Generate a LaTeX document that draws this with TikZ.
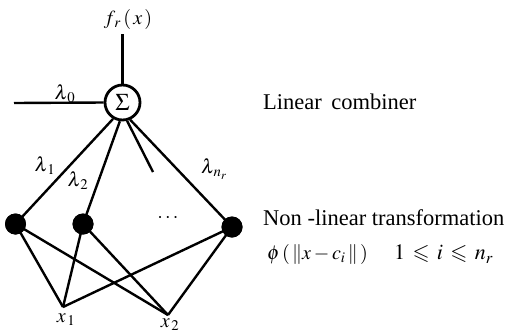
\documentclass[tikz,border=0pt]{standalone}
\usepackage{amssymb}
\usepackage{mathptmx}
\usepackage{fontspec}
\setmainfont{Liberation Serif}
\begin{document}
\begin{tikzpicture}[x=1pt,y=-1pt,
  wire/.style={line width=2.4pt},
  dot/.style={circle,fill=black,inner sep=0pt,minimum size=21pt},
  sumnode/.style={circle,draw,line width=2.8pt,inner sep=0pt,minimum size=35pt,fill=white},
  lbl/.style={inner sep=0pt,font=\fontsize{20}{22}\selectfont},
  txt/.style={inner sep=0pt,anchor=west,font=\fontsize{22.5}{26}\selectfont}]
\useasboundingbox (0,0) rectangle (505,333);
% nodes
\node[sumnode] (s) at (122.5,102.5) {\fontsize{24}{26}\selectfont$\Sigma$};
\coordinate (top) at (122.5,34);
\coordinate (left) at (14,103);
\coordinate (short) at (153,172);
\node[dot] (h1) at (15.5,224) {};
\node[dot] (h2) at (83,224) {};
\node[dot] (h3) at (232,227) {};
\coordinate (x1) at (63,307);
\coordinate (x2) at (168,315);
% connectors
\draw[wire] (s.north) -- (top);
\draw[wire] (s.west) -- (left);
\draw[wire] (s.240) -- (h1.center);
\draw[wire] (s.262) -- (h2.center);
\draw[wire] (s.284) -- (short);
\draw[wire] (s.294) -- (h3.center);
\foreach \h in {h1,h2,h3}{
  \draw[wire] (\h.center) -- (x1);
  \draw[wire] (\h.center) -- (x2);
}
\node[dot] at (h1) {};
\node[dot] at (h2) {};
\node[dot] at (h3) {};
% labels
\node[lbl] (fr) at (128,19) {$f_{\,r}\,(\,x\,)$};
\node[lbl] (l0) at (65,94) {$\lambda_{\,0}$};
\node[lbl] (l1) at (45,166) {$\lambda_{\,1}$};
\node[lbl] (l2) at (78,181) {$\lambda_{\,2}$};
\node[lbl] (ln) at (214,169) {$\lambda_{\,n_r}$};
\node[lbl] (dots) at (168,218) {$\cdots$};
\node[lbl] (lx1) at (66,320) {$x_{\,1}$};
\node[lbl] (lx2) at (170,325) {$x_{\,2}$};
% texts
\node[txt] (lc) at (263,102) {Linear\, combiner};
\node[txt] (nl) at (263,218) {Non -linear transformation};
\node[lbl,anchor=west] (phi) at (267,254) {$\phi\,(\,\|x-c_{i}\,\|\,)$};
\node[lbl,anchor=west,font=\fontsize{22}{24}\selectfont] (rng) at (394,254) {$1\,\leqslant\, i\,\leqslant\, n_{r}$};
\end{tikzpicture}
\end{document}
